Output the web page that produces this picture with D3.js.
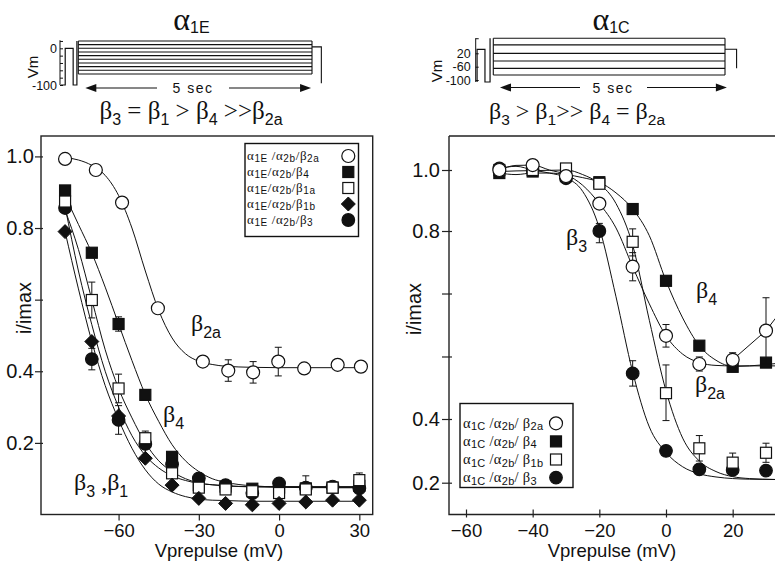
<!DOCTYPE html>
<html><head><meta charset="utf-8">
<script src="https://cdn.jsdelivr.net/npm/d3@7"></script>
<style>body{margin:0;background:#fff}svg{display:block}</style>
</head><body>
<script>
// ---------------- DATA ----------------
// Left panel (alpha1E)
const vL = [-80,-70,-60,-50,-40,-30,-20,-10,0,10,20,30];
const vL_b2a = [-80,-68.5,-58.7,-45.3,-28.5,-19,-9.7,-0.3,9.4,21.9,30.6];
const iL_b2a = [0.993,0.962,0.871,0.576,0.427,0.402,0.397,0.427,0.408,0.418,0.413];
const eL_b2a = [0,0,0,0,0.01,0.03,0.03,0.04,0.01,0.01,0.01];
const iL_b4  = [0.905,0.731,0.532,0.334,0.161,0.082,0.078,0.072,0.075,0.073,0.075,0.08];
const eL_b4  = [0,0,0.02,0.015,0.01,0,0,0,0,0.035,0,0.02];
const iL_b1a = [0.874,0.599,0.352,0.213,0.115,0.075,0.07,0.065,0.06,0.07,0.075,0.096];
const eL_b1a = [0,0.05,0.04,0.02,0.01,0,0,0,0,0,0,0.02];
const iL_b1b = [0.79,0.483,0.275,0.157,0.082,0.045,0.031,0.027,0.031,0.035,0.04,0.04];
const iL_b3  = [0.856,0.434,0.264,0.197,0.14,0.101,0.082,0.06,0.087,0.075,0.078,0.073];
const eL_b3  = [0,0.03,0.04,0.03,0,0.01,0.01,0.01,0.01,0,0.01,0.01];
// fitted curves
const fvL_b2a = [-80,-75,-70,-65,-60,-55,-50,-45,-40,-35,-30,-25,-20,-10,0,10,20,30];
const fiL_b2a = [0.997,0.99,0.975,0.947,0.891,0.80,0.68,0.57,0.493,0.449,0.428,0.419,0.414,0.411,0.41,0.41,0.41,0.41];
const fvL = [-80,-75,-70,-65,-60,-55,-50,-45,-40,-35,-30,-25,-20,-10,0,10,20,30];
const fiL_b4  = [0.89,0.81,0.73,0.635,0.532,0.43,0.335,0.26,0.195,0.15,0.12,0.1,0.09,0.08,0.077,0.076,0.075,0.075];
const fiL_b1a = [0.85,0.74,0.6,0.46,0.352,0.27,0.2,0.15,0.12,0.1,0.088,0.083,0.08,0.077,0.076,0.075,0.075,0.075];
const fiL_b3  = [0.86,0.68,0.53,0.4,0.3,0.22,0.165,0.13,0.108,0.095,0.087,0.083,0.08,0.078,0.078,0.078,0.078,0.078];
const fiL_b1b = [0.79,0.63,0.483,0.36,0.265,0.185,0.125,0.085,0.063,0.05,0.043,0.04,0.039,0.037,0.037,0.037,0.037,0.037];

// Right panel (alpha1C)
const vR = [-50,-40,-30,-20,-10,0,10,20,30];
const iR_b2a = [1.0,1.016,0.98,0.89,0.724,0.577,0.517,0.526,0.588];
const eR_b2a = [0,0,0,0.01,0.03,0.024,0.015,0.015,0.07];
const iR_b4  = [0.99,0.995,0.98,0.96,0.872,0.694,0.556,0.511,0.52];
const iR_b1b = [1.0,1.0,1.005,0.955,0.777,0.455,0.308,0.263,0.294];
const eR_b1b = [0,0,0,0,0.03,0.06,0.04,0.03,0.03];
const iR_b3  = [1.005,1.0,0.973,0.80,0.497,0.30,0.242,0.24,0.238];
const eR_b3  = [0,0,0,0.025,0.027,0,0,0,0];
const fvR = [-50,-45,-40,-35,-30,-25,-20,-15,-10,-5,0,5,10,15,20,25,33];
const fiR_b3  = [1.005,1.012,1.0,0.99,0.975,0.93,0.81,0.66,0.5,0.375,0.295,0.25,0.228,0.218,0.213,0.211,0.21];
const fiR_b1b = [0.995,0.997,0.998,0.999,1.0,0.985,0.955,0.89,0.77,0.61,0.46,0.34,0.268,0.235,0.219,0.213,0.21];
const fiR_b2a = [1.0,1.015,1.016,1.0,0.985,0.95,0.89,0.81,0.724,0.645,0.577,0.538,0.52,0.514,0.513,0.513,0.513];
const fiR_b4  = [0.99,0.985,0.99,0.99,0.985,0.975,0.96,0.925,0.872,0.79,0.694,0.615,0.556,0.525,0.512,0.513,0.518];
const lvR_b2a = [20,30,40];
const liR_b2a = [0.526,0.588,0.68];

// tick values
const yTicksL = [0.2,0.4,0.6,0.8,1.0];
const yLabelsL = ["0.2","0.4","","0.8","1.0"];
const xTicksL = [-60,-30,0,30];
const yTicksR = [0.2,0.4,0.533,0.667,0.8,1.0];
const yLabelsR = ["0.2","0.4","","","0.8","1.0"];
const xTicksR = [-60,-40,-20,0,20];

// legends
const legendL = [["α{1E} /α{2b}/β{2a}","oc"],["α{1E}/α{2b}/β{4}","fs"],["α{1E}/α{2b}/β{1a}","os"],["α{1E}/α{2b}/β{1b}","fd"],["α{1E} /α{2b}/β{3}","fc"]];
const legendR = [["α{1C} /α{2b}/ β{2a}","oc"],["α{1C} /α{2b}/ β{4}","fs"],["α{1C} /α{2b}/ β{1b}","os"],["α{1C} /α{2b}/ β{3}","fc"]];

// voltage protocols
const protoLevelsL = [-70,-60,-50,-40,-30,-20,-10,0,10,20];
const protoTicksL = [20,0,-20,-40,-60,-80,-100];
const protoLabelsL = ["","0","","","","","-100"];
const protoLevelsR = [-85,-65,-26,20,70,110];
const protoTicksR = [110,20,-60,-100];
const protoLabelsR = ["","20","-60","-100"];

// ---------------- DRAW ----------------
const W = 775, H = 563;
const SANS = "'Liberation Sans', Arial, sans-serif";
const SERIF = "'Liberation Serif', 'Times New Roman', serif";
const svg = d3.select("body").append("svg").attr("width", W).attr("height", H)
  .style("background", "#fff");

function rich(g, x, y, str, o) {
  const t = g.append("text").attr("x", x).attr("y", y)
    .attr("text-anchor", o.anchor || "start")
    .attr("font-family", o.font || SERIF).attr("font-size", o.size).attr("fill", "#111")
    .attr("xml:space", "preserve");
  if (o.ls) t.attr("letter-spacing", o.ls);
  const re = /([^{]+)|\{([^}]*)\}/g;
  let m, down = false;
  while ((m = re.exec(str))) {
    if (m[1] !== undefined) {
      const s = t.append("tspan").text(m[1]);
      if (down) { s.attr("dy", -o.shift); down = false; }
    } else {
      t.append("tspan").attr("font-size", o.subSize).attr("font-family", o.subFont || SANS)
        .attr("dy", o.shift).text(m[2]);
      down = true;
    }
  }
  return t;
}

function symbol(g, type, x, y) {
  if (type === "oc" || type === "fc") {
    g.append("circle").attr("cx", x).attr("cy", y).attr("r", type === "oc" ? 6.5 : 6.3)
      .attr("fill", type === "oc" ? "#fff" : "#111").attr("stroke", "#111").attr("stroke-width", 1.2);
  } else if (type === "fs" || type === "os") {
    const s = 11;
    g.append("rect").attr("x", x - s / 2).attr("y", y - s / 2).attr("width", s).attr("height", s)
      .attr("fill", type === "fs" ? "#111" : "#fff").attr("stroke", "#111").attr("stroke-width", 1.2);
  } else if (type === "fd") {
    const d = 7;
    g.append("path").attr("d", `M${x},${y - d}L${x + d},${y}L${x},${y + d}L${x - d},${y}Z`)
      .attr("fill", "#111").attr("stroke", "#111").attr("stroke-width", 1);
  }
}

function series(g, x, y, vs, is, es, type) {
  const eg = g.append("g");
  vs.forEach((v, k) => {
    const e = es ? es[k] : 0;
    if (e > 0) {
      const cx = x(v), y1 = y(is[k] - e), y2 = y(is[k] + e);
      eg.append("line").attr("x1", cx).attr("x2", cx).attr("y1", y1).attr("y2", y2).attr("stroke", "#111").attr("stroke-width", 1);
      [y1, y2].forEach(yy => eg.append("line").attr("x1", cx - 3.5).attr("x2", cx + 3.5).attr("y1", yy).attr("y2", yy).attr("stroke", "#111").attr("stroke-width", 1));
    }
  });
  const sg = g.append("g");
  vs.forEach((v, k) => symbol(sg, type, x(v), y(is[k])));
}

function curve(g, x, y, vs, is) {
  const line = d3.line().x(d => x(d[0])).y(d => y(d[1])).curve(d3.curveMonotoneX);
  g.append("path").attr("d", line(vs.map((v, k) => [v, is[k]])))
    .attr("fill", "none").attr("stroke", "#111").attr("stroke-width", 1);
}

// ====== LEFT PANEL ======
const xL = d3.scaleLinear().domain([-89, 35]).range([41, 372.7]);
const yL = d3.scaleLinear().domain([0, 1.057]).range([514.5, 136]);
const gl = svg.append("g");
gl.append("rect").attr("x", 41).attr("y", 136).attr("width", 372.7 - 41).attr("height", 514.5 - 136)
  .attr("fill", "none").attr("stroke", "#222").attr("stroke-width", 1.4);
const axL = gl.append("g").attr("transform", "translate(0,514.5)")
  .call(d3.axisBottom(xL).tickValues(xTicksL).tickSize(6).tickPadding(3.5).tickFormat(d3.format("d")));
const ayL = gl.append("g").attr("transform", "translate(41,0)")
  .call(d3.axisLeft(yL).tickValues(yTicksL).tickSize(6).tickPadding(1).tickFormat((d, i) => yLabelsL[i]));
[axL, ayL].forEach(a => {
  a.select(".domain").remove();
  a.selectAll("line").attr("stroke", "#222").attr("stroke-width", 1.2);
  a.selectAll("text").attr("font-family", SANS).attr("fill", "#111");
});
axL.selectAll("text").attr("font-size", 18.5);
ayL.selectAll("text").attr("font-size", 20);
ayL.selectAll("line").attr("x2", 2).attr("x1", -6);

gl.append("text").attr("x", 219).attr("y", 557).attr("text-anchor", "middle")
  .attr("font-family", SANS).attr("font-size", 18.5).attr("fill", "#111").text("Vprepulse (mV)");
gl.append("text").attr("transform", "translate(31,308) rotate(-90)").attr("text-anchor", "middle")
  .attr("font-family", SANS).attr("font-size", 20).attr("fill", "#111").text("i/imax");

const cL = gl.append("g");
curve(cL, xL, yL, fvL_b2a, fiL_b2a);
curve(cL, xL, yL, fvL, fiL_b4);
curve(cL, xL, yL, fvL, fiL_b1a);
curve(cL, xL, yL, fvL, fiL_b3);
curve(cL, xL, yL, fvL, fiL_b1b);
series(gl, xL, yL, vL, iL_b4, eL_b4, "fs");
series(gl, xL, yL, vL, iL_b3, eL_b3, "fc");
series(gl, xL, yL, vL, iL_b1a, eL_b1a, "os");
series(gl, xL, yL, vL, iL_b1b, null, "fd");
series(gl, xL, yL, vL_b2a, iL_b2a, eL_b2a, "oc");

const lab = {size: 24, subSize: 16, shift: 7, font: SERIF};
rich(gl, 191, 331, "β{2a}", lab);
rich(gl, 163, 422, "β{4}", lab);
rich(gl, 74, 490, "β{3} ,β{1}", lab);

gl.append("rect").attr("x", 245).attr("y", 143.5).attr("width", 113.5).attr("height", 93)
  .attr("fill", "#fff").attr("stroke", "#111").attr("stroke-width", 1.4);
legendL.forEach((r, k) => {
  const yy = 156 + k * 16;
  rich(gl, 247, yy + 4, r[0], {size: 13, subSize: 10, shift: 2, font: SERIF, ls: 0.6});
  symbol(gl, r[1], 348.3, yy);
});

// ====== RIGHT PANEL ======
const xR = d3.scaleLinear().domain([-65.1, 32.7]).range([449, 775]);
const yR = d3.scaleLinear().domain([0.1, 0.2, 0.4, 0.8, 1.0, 1.111]).range([514.5, 482.7, 419, 231, 170, 136]);
const gr = svg.append("g");
gr.append("path").attr("d", `M449,136H776M449,136V514.5H776`).attr("fill", "none").attr("stroke", "#222").attr("stroke-width", 1.4);
const axR = gr.append("g").attr("transform", "translate(0,514.5)")
  .call(d3.axisBottom(xR).tickValues(xTicksR).tickSize(3).tickPadding(6.5).tickFormat(d3.format("d")));
const ayR = gr.append("g").attr("transform", "translate(449,0)")
  .call(d3.axisLeft(yR).tickValues(yTicksR).tickSize(7).tickPadding(2).tickFormat((d, i) => yLabelsR[i]));
[axR, ayR].forEach(a => {
  a.select(".domain").remove();
  a.selectAll("line").attr("stroke", "#222").attr("stroke-width", 1.2);
  a.selectAll("text").attr("font-family", SANS).attr("fill", "#111");
});
axR.selectAll("line").attr("y1", -5).attr("y2", 3);
ayR.selectAll("line").attr("x1", -7).attr("x2", 3);
axR.selectAll("text").attr("font-size", 18.5);
ayR.selectAll("text").attr("font-size", 20);

gr.append("text").attr("x", 612).attr("y", 557).attr("text-anchor", "middle")
  .attr("font-family", SANS).attr("font-size", 18.5).attr("fill", "#111").text("Vprepulse (mV)");
gr.append("text").attr("transform", "translate(421,309) rotate(-90)").attr("text-anchor", "middle")
  .attr("font-family", SANS).attr("font-size", 20).attr("fill", "#111").text("i/imax");

const cR = gr.append("g");
curve(cR, xR, yR, fvR, fiR_b3);
curve(cR, xR, yR, fvR, fiR_b1b);
curve(cR, xR, yR, fvR, fiR_b2a);
curve(cR, xR, yR, fvR, fiR_b4);
cR.append("path").attr("d", d3.line().x((d) => xR(d[0])).y(d => yR(d[1]))(lvR_b2a.map((v, k) => [v, liR_b2a[k]])))
  .attr("fill", "none").attr("stroke", "#111").attr("stroke-width", 1);

series(gr, xR, yR, vR, iR_b4, null, "fs");
series(gr, xR, yR, vR, iR_b3, eR_b3, "fc");
series(gr, xR, yR, vR, iR_b1b, eR_b1b, "os");
series(gr, xR, yR, vR, iR_b2a, eR_b2a, "oc");

rich(gr, 696, 298, "β{4}", lab);
rich(gr, 566, 245, "β{3}", lab);
rich(gr, 695, 392, "β{2a}", lab);

gr.append("rect").attr("x", 460).attr("y", 403.5).attr("width", 113).attr("height", 84)
  .attr("fill", "#fff").attr("stroke", "#111").attr("stroke-width", 1.4);
legendR.forEach((r, k) => {
  const yy = 423.3 + k * 18.1;
  rich(gr, 463, yy + 4.5, r[0], {size: 14.5, subSize: 11, shift: 2.5, font: SERIF, ls: 0.3});
  symbol(gr, r[1], 556, yy);
});

// ====== PROTOCOLS ======
function arrowLine(g, x1, x2, y, gapA, gapB) {
  g.append("line").attr("x1", x1 + 8).attr("x2", gapA).attr("y1", y).attr("y2", y).attr("stroke", "#111").attr("stroke-width", 1.2);
  g.append("line").attr("x1", gapB).attr("x2", x2 - 8).attr("y1", y).attr("y2", y).attr("stroke", "#111").attr("stroke-width", 1.2);
  g.append("path").attr("d", `M${x1},${y}L${x1 + 11},${y - 4}L${x1 + 11},${y + 4}Z`).attr("fill", "#111");
  g.append("path").attr("d", `M${x2},${y}L${x2 - 11},${y - 4}L${x2 - 11},${y + 4}Z`).attr("fill", "#111");
}

const pL = svg.append("g");
const tL = d3.scaleLinear().domain([0, 5]).range([78.3, 312]);
const vpL = d3.scaleLinear().domain([-100, 0]).range([85, 48.3]);
const paL = pL.append("g").attr("transform", "translate(60,0)")
  .call(d3.axisLeft(vpL).tickValues(protoTicksL).tickSize(-3).tickPadding(3).tickFormat((d, i) => protoLabelsL[i]));
paL.select(".domain").attr("d", `M0,${vpL(22)}V${vpL(-100)}`).attr("stroke", "#111");
paL.selectAll("line").attr("stroke", "#111");
paL.selectAll("text").attr("font-family", SANS).attr("font-size", 12.5).attr("fill", "#111");
pL.append("path").attr("d",
  `M${tL(-0.37)},${vpL(-100)}H${tL(-0.28)}V${vpL(0)}H${tL(-0.11)}V${vpL(-100)}H${tL(-0.03)}V${vpL(20)}`)
  .attr("fill", "none").attr("stroke", "#111").attr("stroke-width", 1.2);
protoLevelsL.forEach(l => pL.append("line").attr("x1", tL(0)).attr("x2", tL(5)).attr("y1", vpL(l)).attr("y2", vpL(l))
  .attr("stroke", "#111").attr("stroke-width", 1.1));
pL.append("path").attr("d", `M${tL(0)},${vpL(-70)}V${vpL(20)}M${tL(5)},${vpL(-70)}V${vpL(20)}M${tL(5)},${vpL(4)}H${tL(5.2)}V${vpL(-95)}`)
  .attr("fill", "none").attr("stroke", "#111").attr("stroke-width", 1.1);
pL.append("text").attr("transform", "translate(38,67) rotate(-90)").attr("text-anchor", "middle")
  .attr("font-family", SANS).attr("font-size", 15).attr("fill", "#111").text("Vm");
arrowLine(pL, tL(0.15), tL(4.98), 88, 157, 229);
pL.append("text").attr("x", 193).attr("y", 93).attr("text-anchor", "middle").attr("font-family", SANS)
  .attr("font-size", 14).attr("letter-spacing", 1.5).attr("fill", "#111").text("5 sec");
rich(pL, 191.5, 30, "α{1E}", {size: 32, subSize: 16, shift: 3, font: SERIF, anchor: "middle"});
rich(pL, 191, 119, "β{3} = β{1} > β{4} >>β{2a}", {size: 25, subSize: 16, shift: 6, font: SERIF, anchor: "middle"});

const pR = svg.append("g");
const tR = d3.scaleLinear().domain([0, 5]).range([493.3, 725]);
const vpR = d3.scaleLinear().domain([-100, -60, 20]).range([80, 66.7, 53.3]);
const paR = pR.append("g").attr("transform", "translate(475.7,0)")
  .call(d3.axisLeft(vpR).tickValues(protoTicksR).tickSize(-3).tickPadding(5).tickFormat((d, i) => protoLabelsR[i]));
paR.select(".domain").attr("d", `M0,${vpR(110)}V${vpR(-106)}`).attr("stroke", "#111");
paR.selectAll("line").attr("stroke", "#111");
paR.selectAll("text").attr("font-family", SANS).attr("font-size", 12.5).attr("fill", "#111");
pR.append("path").attr("d",
  `M${tR(-0.35)},${vpR(-106)}V${vpR(44)}H${tR(-0.18)}V${vpR(-106)}H${tR(-0.07)}V${vpR(110)}`)
  .attr("fill", "none").attr("stroke", "#111").attr("stroke-width", 1.2);
protoLevelsR.forEach(l => pR.append("line").attr("x1", tR(0)).attr("x2", tR(5)).attr("y1", vpR(l)).attr("y2", vpR(l))
  .attr("stroke", "#111").attr("stroke-width", 1.2));
pR.append("path").attr("d", `M${tR(0)},${vpR(-85)}V${vpR(110)}M${tR(5)},${vpR(-85)}V${vpR(110)}M${tR(5)},${vpR(44)}H${tR(5.25)}V${vpR(-65)}`)
  .attr("fill", "none").attr("stroke", "#111").attr("stroke-width", 1.1);
pR.append("text").attr("transform", "translate(442,71) rotate(-90)").attr("text-anchor", "middle")
  .attr("font-family", SANS).attr("font-size", 15).attr("fill", "#111").text("Vm");
arrowLine(pR, tR(0.145), tR(5.04), 87.5, 580, 647);
pR.append("text").attr("x", 613).attr("y", 92.5).attr("text-anchor", "middle").attr("font-family", SANS)
  .attr("font-size", 14).attr("letter-spacing", 1.5).attr("fill", "#111").text("5 sec");
rich(pR, 611, 30, "α{1C}", {size: 32, subSize: 16, shift: 3, font: SERIF, anchor: "middle"});
rich(pR, 577, 119, "β{3} > β{1}>> β{4} = β{2a}", {size: 24, subSize: 15.5, shift: 6, font: SERIF, anchor: "middle"});
</script>
</body></html>
